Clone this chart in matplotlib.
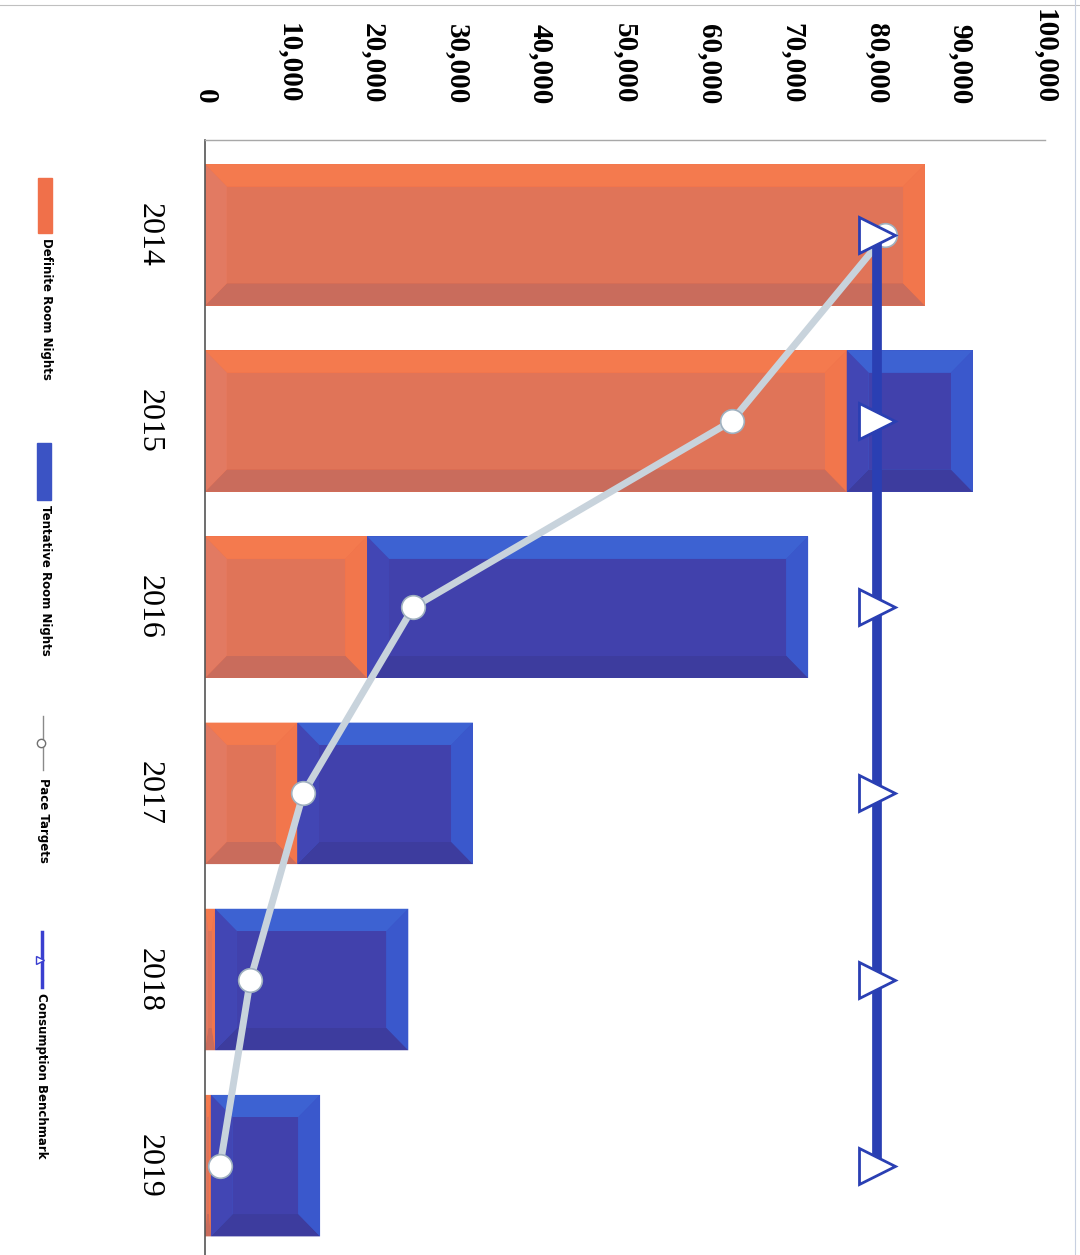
import matplotlib
matplotlib.use('Agg')
import matplotlib.pyplot as plt
from matplotlib.lines import Line2D
from matplotlib.patches import Rectangle
from matplotlib.ticker import StrMethodFormatter
import numpy as np

years = ['2014', '2015', '2016', '2017', '2018', '2019']
definite = [85700, 76400, 19300, 11000, 1200, 700]
tentative = [0, 15000, 52500, 20900, 23000, 13000]
pace = [81000, 62700, 24800, 11700, 5400, 1800]
benchmark = [80000, 80000, 80000, 80000, 80000, 80000]

W, H = 1080, 1255
fig = plt.figure(figsize=(W / 100, H / 100), dpi=100)
ax = fig.add_axes([205 / W, 0, 840 / W, 1 - 140 / H])

y = np.arange(len(years))
bar_h = 0.76

# bevel shades: (top, bottom, left, right, face)
orange = '#f0704a'
orange_shades = ('#f47a4e', '#c96c5c', '#e27a62', '#f2764c', '#e07458')
blue = '#3b53c4'
blue_shades = ('#3d62d2', '#3d3c9e', '#4246b4', '#3a58cc', '#4141ac')


def bevel_bars(left, width, base, shades):
    ax.barh(y, width, bar_h, left=left, color=base, zorder=2)
    top, bottom, lft, rgt, face = shades
    for yi, l, w in zip(y, left, width):
        if w <= 0:
            continue
        dx = min(2600, w / 3)
        dy = 0.12
        x0, x1 = l, l + w
        y0, y1 = yi - bar_h / 2, yi + bar_h / 2
        ax.fill([x0, x1, x1 - dx, x0 + dx], [y0, y0, y0 + dy, y0 + dy], color=top, lw=0, zorder=2.2)
        ax.fill([x0, x1, x1 - dx, x0 + dx], [y1, y1, y1 - dy, y1 - dy], color=bottom, lw=0, zorder=2.2)
        ax.fill([x0, x0 + dx, x0 + dx, x0], [y0, y0 + dy, y1 - dy, y1], color=lft, lw=0, zorder=2.2)
        ax.fill([x1, x1 - dx, x1 - dx, x1], [y0, y0 + dy, y1 - dy, y1], color=rgt, lw=0, zorder=2.2)
        ax.fill([x0 + dx, x1 - dx, x1 - dx, x0 + dx], [y0 + dy, y0 + dy, y1 - dy, y1 - dy],
                color=face, lw=0, zorder=2.3)


bevel_bars(np.zeros(len(y)), definite, orange, orange_shades)
bevel_bars(np.array(definite), tentative, blue, blue_shades)

ax.plot(pace, y, color='#c8d3dc', lw=5, marker='o', ms=17,
        mfc='white', mec='#9fb0bf', mew=1.2, zorder=4)
ax.plot(benchmark, y, color='#2a3fb3', lw=7, marker='>', ms=26,
        mfc='white', mec='#2a3fb3', mew=2, zorder=5)

ax.set_xlim(0, 100000)
ax.set_ylim(5.48, -0.51)
ax.set_xticks(np.arange(0, 100001, 10000))
ax.xaxis.set_major_formatter(StrMethodFormatter('{x:,.0f}'))
ax.xaxis.tick_top()
ax.set_yticks(y)
ax.set_yticklabels(years)
ax.tick_params(axis='x', length=0, pad=26, labelsize=21, labelrotation=-90)
ax.tick_params(axis='y', length=0, pad=30, labelsize=23, labelrotation=-90)
for lbl in ax.get_xticklabels():
    lbl.set_fontfamily('Liberation Serif')
    lbl.set_fontweight('bold')
for lbl in ax.get_yticklabels():
    lbl.set_fontfamily('Liberation Serif')
    lbl.set_va('center')

for s in ['right', 'bottom']:
    ax.spines[s].set_visible(False)
ax.spines['top'].set_color('#a8a8a8')
ax.spines['top'].set_linewidth(1)
ax.spines['left'].set_color('#555555')
ax.spines['left'].set_linewidth(1.2)


def fx(px):
    return px / W


def fy(py):
    return 1 - py / H


# legend, laid out down the left edge
leg_font = dict(family=['DejaVu Sans'], size=8.5, weight='bold',
                rotation=-90, ha='center', va='top')
fig.add_artist(Rectangle((fx(38), fy(233)), 14 / W, 55 / H, color=orange,
                         transform=fig.transFigure))
fig.text(fx(46), fy(238), 'Definite Room Nights', **leg_font)
fig.add_artist(Rectangle((fx(37), fy(500)), 14 / W, 57 / H, color=blue,
                         transform=fig.transFigure))
fig.text(fx(45), fy(505), 'Tentative Room Nights', **leg_font)
fig.add_artist(Line2D([fx(43), fx(43)], [fy(716), fy(770)], transform=fig.transFigure,
                      color='#8a8a8a', lw=1))
fig.add_artist(Line2D([fx(41)], [fy(743)], transform=fig.transFigure, marker='o',
                      ms=6, mfc='white', mec='#707070', mew=1))
fig.text(fx(43), fy(778), 'Pace Targets', **leg_font)
fig.add_artist(Line2D([fx(42), fx(42)], [fy(932), fy(987)], transform=fig.transFigure,
                      color='#3a3fd0', lw=2.5))
fig.add_artist(Line2D([fx(40)], [fy(960)], transform=fig.transFigure, marker='>',
                      ms=6, mfc='white', mec='#3a3fd0', mew=1))
fig.text(fx(41), fy(993), 'Consumption Benchmark', **leg_font)

# page edges
fig.add_artist(Line2D([0, 1], [fy(5), fy(5)], transform=fig.transFigure,
                      color='#c0c0c0', lw=0.8))
fig.add_artist(Line2D([fx(1075), fx(1075)], [0, 1], transform=fig.transFigure,
                      color='#c8d0e0', lw=0.8))

fig.savefig('out.png', dpi=100)
